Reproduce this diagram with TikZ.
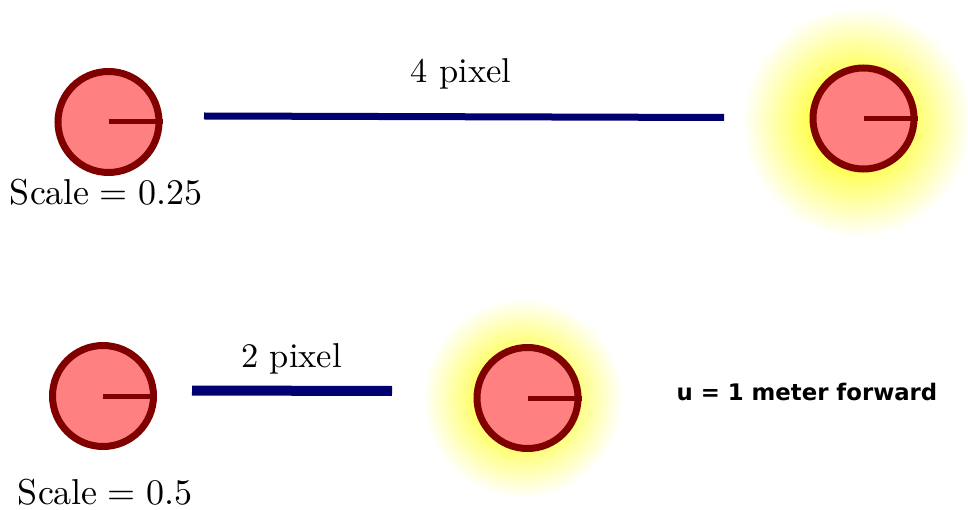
\documentclass[tikz,border=0pt]{standalone}
\usepackage{fontspec}
\newfontfamily\verdanalike{DejaVu Sans}
\newfontfamily\cmten{lmroman10-regular}[Extension=.otf]
\definecolor{ringred}{RGB}{128,0,0}
\definecolor{discpink}{RGB}{255,128,128}
\definecolor{barblue}{RGB}{0,0,112}
\definecolor{glowyellow}{RGB}{255,255,80}
\pgfdeclareradialshading{glowshade}{\pgfpoint{0bp}{0bp}}{color(0bp)=(glowyellow); color(10bp)=(glowyellow); color(25bp)=(white); color(50bp)=(white)}
\tikzset{
  wheel/.style={circle, draw=ringred, line width=7pt, fill=discpink, inner sep=0pt, minimum size=101pt},
  spoke/.style={draw=ringred, line width=5pt},
  bar/.style={draw=barblue, line cap=butt},
  lmlabel/.style={anchor=base, inner sep=0pt, font=\cmten\fontsize{36}{40}\selectfont},
  pxlabel/.style={anchor=base, inner sep=0pt, font=\cmten\fontsize{34.5}{40}\selectfont},
  boldlabel/.style={anchor=base, inner sep=0pt, font=\verdanalike\bfseries\fontsize{22.8}{26}\selectfont}
}
\begin{document}
\begin{tikzpicture}[x=1pt,y=-1pt]
\useasboundingbox[fill=white] (0,0) rectangle (968,510);
% glows
\shade[shading=glowshade] (857,122) circle (115);
\shade[shading=glowshade] (522.5,398) circle (100);
% wheels
\node[wheel] (w1) at (108.5,122) {};
\node[wheel] (w2) at (863.5,118.5) {};
\node[wheel] (w3) at (103,396) {};
\node[wheel] (w4) at (527.5,398) {};
\foreach \w in {w1,w2,w3,w4} {\draw[spoke] (\w.center) -- (\w.east);}
% bars
\coordinate (b1s) at (204,116);
\coordinate (b1e) at (724,117.5);
\coordinate (b2s) at (192,390.5);
\coordinate (b2e) at (392,391);
\draw[bar, line width=7pt] (b1s) -- (b1e);
\draw[bar, line width=10pt] (b2s) -- (b2e);
% labels
\node[lmlabel] (s1) at (106,205) {Scale{\kern0.278em}={\kern0.278em}0.25};
\node[lmlabel] (s2) at (105,504) {Scale{\kern0.278em}={\kern0.278em}0.5};
\node[pxlabel] (p1) at (461,83) {4 pixel};
\node[pxlabel] (p2) at (291.5,367) {2 pixel};
\node[boldlabel] (u) at (807,400) {u = 1 meter forward};
\end{tikzpicture}
\end{document}
